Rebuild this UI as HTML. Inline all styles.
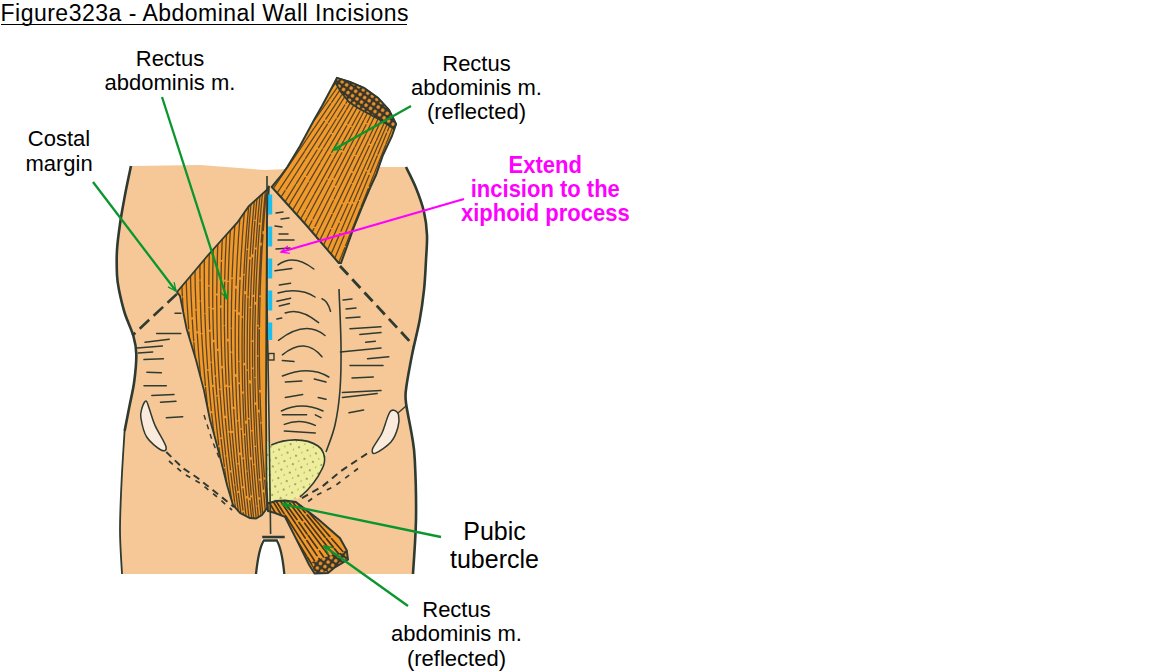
<!DOCTYPE html>
<html><head><meta charset="utf-8"><style>
html,body{margin:0;padding:0;background:#fff;width:1152px;height:672px;overflow:hidden;position:relative}
body{font-family:"Liberation Sans",sans-serif}
svg{position:absolute;left:0;top:0}
.lb{position:absolute;width:400px;text-align:center;white-space:nowrap}
.title{position:absolute;left:0.5px;font-size:23px;line-height:23px;letter-spacing:0.49px;white-space:nowrap}
.ul{position:absolute;left:1px;top:24px;width:406px;height:1.3px;background:#000}
</style></head><body>
<svg width="1152" height="672" viewBox="0 0 1152 672">
<defs>
<clipPath id="cu"><path d="M337.0,78.0 L350.0,82.0 L364.0,88.0 L378.0,98.0 L389.0,110.0 L396.0,124.0 L392.0,136.0 L383.0,155.0 L376.0,175.0 L370.0,188.0 L362.0,207.0 L354.0,227.0 L341.0,263.0 L338.7,263.0 L307.0,226.0 L271.7,187.0 L280.0,177.0 L287.3,167.0 L300.0,146.0 L314.0,120.0 L322.0,106.0Z"/></clipPath>
<clipPath id="cl"><path d="M269.0,186.0 L266.7,190.0 L248.6,206.4 L237.2,222.7 L222.5,239.0 L207.7,255.5 L191.4,275.0 L177.0,292.0 L180.0,296.0 L186.6,328.7 L196.0,360.0 L204.0,390.6 L210.0,420.0 L214.0,434.0 L220.0,457.0 L227.0,485.0 L233.0,505.0 L240.0,513.0 L249.8,518.0 L256.0,518.5 L262.0,515.0 L267.6,507.4 L266.5,480.0 L266.0,400.0 L266.5,300.0 L267.0,220.0Z"/></clipPath>
<clipPath id="cb"><path d="M267.5,503.5 L276.0,501.0 L285.0,500.5 L295.8,502.0 L318.6,519.5 L340.0,538.2 L346.7,550.3 L348.0,559.6 L334.0,568.0 L328.0,573.0 L314.6,573.5 L309.2,565.0 L298.5,543.6 L285.0,516.8 L275.0,513.0 L268.0,511.0Z"/></clipPath>
<pattern id="dots" width="5.5" height="5.5" patternUnits="userSpaceOnUse" patternTransform="rotate(35)"><rect width="5.5" height="5.5" fill="#3b3428"/><circle cx="2.7" cy="2.7" r="1.8" fill="#E8962E"/></pattern>
<pattern id="ydots" width="9" height="9" patternUnits="userSpaceOnUse" patternTransform="rotate(20)"><rect width="9" height="9" fill="#EDED9C"/><circle cx="2" cy="3" r="0.8" fill="#4a4a30"/><circle cx="6.5" cy="7" r="0.6" fill="#6a6a40"/></pattern>
</defs>
<path d="M131,166 L200,165 L265,170 L330,167 L406,167 C407.7,170.5 413.0,180.5 416.0,188.0 C419.0,195.5 422.2,204.2 424.0,212.0 C425.8,219.8 426.7,227.0 427.0,235.0 C427.3,243.0 426.5,250.8 426.0,260.0 C425.5,269.2 425.1,280.0 424.0,290.0 C422.9,300.0 421.7,309.2 419.7,320.0 C417.7,330.8 414.2,343.7 412.0,355.0 C409.8,366.3 407.2,380.0 406.2,388.0 C405.2,396.0 405.0,395.0 406.0,403.0 C407.0,411.0 410.5,426.5 412.0,436.0 C413.5,445.5 414.1,446.2 414.8,460.0 C415.5,473.8 416.3,500.0 416.0,519.0 C415.7,538.0 413.5,564.8 413.0,574.0 L285,574 L279,539 L262,539 L255,574 L122,574 C121.7,566.7 120.0,545.8 120.0,530.0 C120.0,514.2 120.9,495.5 121.7,479.0 C122.5,462.5 123.3,443.2 124.6,431.0 C125.9,418.8 127.9,414.3 129.5,406.0 C131.1,397.7 133.2,389.7 134.3,381.0 C135.4,372.3 136.5,361.5 136.3,354.0 C136.2,346.5 135.3,342.8 133.4,336.0 C131.5,329.2 127.1,320.7 124.7,313.0 C122.3,305.3 120.3,296.3 119.0,290.0 C117.7,283.7 117.3,281.7 117.0,275.0 C116.7,268.3 116.5,258.5 117.0,250.0 C117.5,241.5 118.7,233.2 120.0,224.0 C121.3,214.8 123.2,204.7 125.0,195.0 C126.8,185.3 130.0,170.8 131.0,166.0Z" fill="#F6C898"/>
<path d="M267.0,444.0 C267.7,434.3 268.5,445.5 271.3,444.9 C274.1,444.3 278.7,441.3 284.0,440.4 C289.3,439.5 297.3,438.7 303.0,439.7 C308.7,440.7 314.4,444.0 318.2,446.4 C322.0,448.8 324.9,450.1 325.6,453.8 C326.4,457.5 325.4,463.2 322.7,468.7 C320.0,474.1 313.0,481.8 309.3,486.5 C305.6,491.2 303.9,494.8 300.4,497.0 C296.9,499.2 293.2,499.0 288.5,500.0 C283.8,501.0 275.6,502.5 272.0,503.0 C268.4,503.5 267.8,512.8 267.0,503.0 C266.2,493.2 266.3,453.7 267.0,444.0Z" fill="url(#ydots)"/>
<path d="M271.3,444.9 C285,439 305,437 318,446 C326,452 326,462 322,469 C316,482 306,492 300,497" fill="none" stroke="#2f3a30" stroke-width="1.6"/>
<path d="M146.0,401.0 C147.2,401.1 147.8,404.7 149.3,408.8 C150.8,412.9 152.2,419.1 155.0,425.4 C157.8,431.7 165.0,442.7 166.0,446.8 C167.0,450.9 164.2,451.6 161.0,450.0 C157.8,448.4 150.0,442.3 146.7,437.0 C143.3,431.7 141.7,422.8 140.9,418.0 C140.1,413.2 141.2,410.8 142.0,408.0 C142.8,405.2 144.8,400.9 146.0,401.0Z" fill="#FBEBDC" stroke="#2f3a30" stroke-width="1.5"/>
<path d="M394.4,410.4 C395.8,410.9 397.9,411.8 398.5,414.6 C399.1,417.4 399.2,422.5 398.0,427.0 C396.8,431.5 395.0,437.3 391.2,441.7 C387.5,446.1 378.7,451.9 375.6,453.1 C372.5,454.3 371.4,452.3 372.5,449.0 C373.6,445.7 379.5,438.3 381.9,433.3 C384.3,428.3 385.6,422.4 387.0,418.8 C388.4,415.1 389.0,412.9 390.2,411.5 C391.4,410.1 393.0,409.9 394.4,410.4Z" fill="#FBEBDC" stroke="#2f3a30" stroke-width="1.5"/>
<path d="M398,413 L406,406" stroke="#2f3a30" stroke-width="1.3"/>
<path d="M337.0,78.0 L350.0,82.0 L364.0,88.0 L378.0,98.0 L389.0,110.0 L396.0,124.0 L392.0,136.0 L383.0,155.0 L376.0,175.0 L370.0,188.0 L362.0,207.0 L354.0,227.0 L341.0,263.0 L338.7,263.0 L307.0,226.0 L271.7,187.0 L280.0,177.0 L287.3,167.0 L300.0,146.0 L314.0,120.0 L322.0,106.0Z" fill="#F09A2C"/>
<path clip-path="url(#cu)" d="M342.4,73.5 Q333.2,86.2 324.0,98.9 M323.4,99.7 Q315.3,110.9 307.1,122.2 M306.3,123.4 Q302.5,128.6 298.6,133.9 M297.6,135.3 Q294.0,140.3 290.4,145.3 M289.4,146.6 Q285.5,152.0 281.6,157.4 M281.0,158.2 Q273.9,168.1 266.7,178.0 M265.4,179.8 Q262.7,183.5 260.0,187.2 M346.2,74.7 Q337.8,86.8 329.3,98.9 M328.5,100.1 Q316.4,117.3 304.4,134.5 M303.9,135.3 Q292.9,151.0 282.0,166.7 M281.2,167.8 Q276.6,174.3 272.1,180.9 M271.5,181.7 Q268.1,186.6 264.7,191.5 M349.4,75.9 Q340.5,89.1 331.6,102.3 M330.7,103.6 Q322.6,115.6 314.5,127.6 M313.9,128.4 Q310.2,134.0 306.4,139.6 M305.7,140.6 Q296.4,154.4 287.1,168.1 M286.2,169.5 Q280.2,178.4 274.1,187.3 M273.1,188.9 Q270.8,192.3 268.4,195.7 M353.5,77.1 Q348.1,85.3 342.7,93.5 M341.6,95.1 Q333.7,107.1 325.8,119.1 M324.5,121.2 Q314.7,135.9 305.0,150.7 M304.3,151.9 Q292.3,170.1 280.3,188.2 M279.7,189.1 Q276.2,194.6 272.6,200.0 M356.5,78.3 Q353.0,83.8 349.4,89.4 M348.3,91.2 Q338.4,106.8 328.4,122.5 M327.4,124.1 Q316.5,141.3 305.6,158.4 M304.8,159.7 Q295.5,174.3 286.2,189.0 M285.1,190.7 Q280.8,197.5 276.5,204.3 M360.7,79.5 Q353.3,91.3 346.0,103.2 M344.8,105.0 Q341.1,111.1 337.4,117.1 M336.2,119.0 Q327.4,133.3 318.5,147.7 M317.1,150.0 Q306.7,166.8 296.3,183.6 M295.5,184.8 Q288.9,195.5 282.4,206.1 M281.2,207.9 Q281.1,208.2 280.9,208.5 M363.7,80.6 Q360.0,86.8 356.3,92.9 M355.1,94.9 Q350.8,102.1 346.5,109.3 M345.8,110.5 Q339.2,121.4 332.6,132.4 M331.3,134.6 Q327.4,141.0 323.5,147.5 M322.6,149.0 Q314.6,162.3 306.7,175.5 M305.3,177.7 Q295.0,194.9 284.7,212.1 M367.4,81.8 Q361.1,92.6 354.8,103.3 M353.5,105.6 Q342.1,125.2 330.6,144.9 M330.0,145.9 Q325.3,154.0 320.6,162.0 M320.0,163.2 Q314.8,172.0 309.6,180.9 M308.7,182.5 Q300.4,196.7 292.2,210.9 M291.4,212.1 Q290.0,214.6 288.6,217.0 M370.3,84.3 Q359.0,104.1 347.8,123.9 M346.7,125.9 Q339.2,139.1 331.7,152.4 M330.7,154.2 Q321.8,169.9 313.0,185.6 M312.4,186.5 Q302.6,203.9 292.8,221.2 M373.5,86.7 Q367.1,98.3 360.8,109.8 M359.9,111.3 Q356.0,118.4 352.1,125.5 M351.0,127.4 Q347.5,133.9 343.9,140.4 M343.4,141.4 Q338.5,150.1 333.7,158.8 M333.1,159.9 Q327.2,170.7 321.3,181.4 M320.8,182.3 Q317.7,187.9 314.7,193.4 M314.1,194.5 Q310.2,201.6 306.3,208.7 M305.5,210.2 Q302.2,216.1 298.9,222.0 M297.7,224.3 Q297.3,224.9 297.0,225.4 M375.8,89.2 Q369.8,100.4 363.8,111.7 M363.2,112.7 Q353.2,131.4 343.2,150.2 M341.9,152.7 Q335.0,165.5 328.2,178.3 M327.3,180.0 Q323.6,186.9 319.9,193.9 M319.3,194.9 Q313.5,205.8 307.7,216.7 M307.0,218.0 Q303.9,223.8 300.8,229.6 M378.4,91.6 Q371.3,105.6 364.1,119.5 M363.5,120.6 Q356.2,134.8 348.9,149.0 M348.5,149.9 Q341.3,163.9 334.1,177.8 M332.8,180.3 Q322.9,199.6 313.1,218.8 M312.0,220.8 Q308.6,227.3 305.3,233.9 M381.4,94.1 Q374.2,108.3 367.1,122.5 M366.0,124.7 Q360.5,135.7 355.0,146.7 M354.3,147.9 Q345.0,166.6 335.6,185.2 M334.4,187.8 Q324.7,207.1 315.0,226.4 M313.9,228.6 Q311.5,233.4 309.1,238.2 M384.3,96.5 Q378.6,108.1 372.9,119.6 M372.5,120.5 Q369.4,126.8 366.3,133.1 M365.7,134.5 Q360.8,144.5 355.9,154.5 M354.8,156.6 Q344.5,177.8 334.1,199.0 M333.3,200.7 Q323.0,221.6 312.8,242.5 M387.7,98.9 Q383.1,108.5 378.5,118.0 M377.9,119.3 Q373.5,128.4 369.1,137.5 M368.5,138.8 Q360.8,154.8 353.1,170.9 M351.9,173.4 Q342.5,193.0 333.1,212.6 M332.2,214.4 Q324.4,230.7 316.6,247.0 M389.8,101.4 Q380.1,122.4 370.4,143.4 M369.4,145.7 Q360.9,164.1 352.4,182.4 M351.6,184.2 Q347.5,193.1 343.4,202.1 M342.3,204.4 Q337.0,215.9 331.7,227.4 M330.7,229.7 Q325.7,240.5 320.7,251.3 M392.6,104.1 Q384.5,122.2 376.4,140.4 M375.8,141.6 Q372.2,149.8 368.5,158.0 M368.0,159.1 Q358.5,180.3 349.1,201.4 M348.0,203.8 Q344.2,212.3 340.4,220.8 M339.3,223.2 Q332.1,239.5 324.9,255.7 M394.3,107.4 Q390.7,115.7 387.1,124.0 M386.7,124.9 Q377.1,147.3 367.4,169.7 M366.5,171.8 Q360.1,186.8 353.6,201.7 M352.5,204.3 Q346.7,217.7 341.0,231.1 M339.9,233.6 Q334.2,246.8 328.5,260.0 M396.0,110.7 Q391.8,120.9 387.5,131.1 M386.7,133.1 Q382.3,143.6 378.0,154.1 M377.3,155.8 Q373.8,164.2 370.3,172.6 M369.2,175.2 Q364.2,187.3 359.2,199.4 M358.5,201.2 Q351.8,217.2 345.2,233.2 M344.1,235.8 Q338.6,249.0 333.1,262.3 M398.0,114.0 Q392.0,129.1 386.0,144.1 M385.6,145.1 Q380.1,158.8 374.7,172.5 M374.2,173.7 Q371.7,180.0 369.2,186.2 M368.3,188.6 Q364.6,197.8 361.0,206.9 M360.3,208.7 Q352.9,227.2 345.5,245.7 M344.8,247.7 Q340.6,258.2 336.4,268.6 M399.8,117.3 Q396.7,125.3 393.7,133.3 M392.9,135.3 Q388.9,145.8 385.0,156.3 M384.4,157.7 Q377.0,177.2 369.6,196.6 M368.9,198.5 Q362.9,214.4 356.8,230.2 M355.9,232.6 Q348.3,252.8 340.6,272.9" stroke="#3a2e22" stroke-width="1.3" stroke-opacity="0.8" stroke-linecap="round" fill="none"/>
<path d="M337.0,78.0 L350.0,82.0 L364.0,88.0 L378.0,98.0 L389.0,110.0 L396.0,124.0 L392.0,136.0 L383.0,155.0 L376.0,175.0 L370.0,188.0 L362.0,207.0 L354.0,227.0 L341.0,263.0 L338.7,263.0 L307.0,226.0 L271.7,187.0 L280.0,177.0 L287.3,167.0 L300.0,146.0 L314.0,120.0 L322.0,106.0Z" fill="none" stroke="#2f3a30" stroke-width="2"/>
<path d="M337.0,78.0 L350.0,82.0 L364.0,88.0 L378.0,98.0 L389.0,110.0 L396.0,124.0 L394.0,129.0 L382.0,121.0 L371.0,115.0 L358.0,108.0 L349.0,102.0 L341.0,92.0 L335.0,82.0Z" fill="url(#dots)" stroke="#2f3a30" stroke-width="1.8"/>
<path d="M269.0,186.0 L266.7,190.0 L248.6,206.4 L237.2,222.7 L222.5,239.0 L207.7,255.5 L191.4,275.0 L177.0,292.0 L180.0,296.0 L186.6,328.7 L196.0,360.0 L204.0,390.6 L210.0,420.0 L214.0,434.0 L220.0,457.0 L227.0,485.0 L233.0,505.0 L240.0,513.0 L249.8,518.0 L256.0,518.5 L262.0,515.0 L267.6,507.4 L266.5,480.0 L266.0,400.0 L266.5,300.0 L267.0,220.0Z" fill="#F09A2C"/>
<path clip-path="url(#cl)" d="M176.5,279.4 Q177.4,297.7 178.9,316.0 M179.1,318.5 Q180.5,335.6 182.4,352.5 M182.7,354.8 Q184.6,372.2 187.1,389.6 M187.6,392.6 Q190.8,414.5 194.8,436.3 M195.3,439.1 Q200.3,465.8 206.5,492.3 M206.9,494.0 Q211.4,512.8 216.4,531.4 M181.4,275.0 Q181.8,285.4 182.4,295.9 M182.5,298.0 Q183.0,307.4 183.6,316.8 M183.8,318.5 Q184.4,327.9 185.2,337.3 M185.5,339.8 Q187.6,364.0 190.8,388.1 M191.1,391.0 Q192.6,402.0 194.3,413.0 M194.7,415.6 Q198.0,437.0 202.0,458.4 M202.3,459.9 Q207.3,485.8 213.4,511.5 M214.1,514.5 Q216.5,524.3 219.0,534.1 M185.8,270.6 Q186.6,299.8 188.7,328.9 M188.9,331.8 Q189.8,343.2 190.9,354.6 M191.1,356.7 Q192.9,375.6 195.3,394.5 M195.5,396.4 Q197.1,408.5 198.9,420.5 M199.2,422.4 Q202.7,445.5 207.1,468.5 M207.4,469.9 Q211.1,489.3 215.5,508.7 M215.9,510.8 Q217.8,519.0 219.8,527.2 M220.3,529.1 Q220.9,531.9 221.6,534.6 M190.2,266.2 Q190.7,291.6 192.1,316.8 M192.3,320.0 Q192.9,330.4 193.7,340.8 M193.9,342.6 Q194.6,351.6 195.4,360.5 M195.7,363.4 Q197.0,377.3 198.7,391.2 M198.8,392.8 Q200.9,409.9 203.4,427.0 M203.9,430.1 Q207.7,455.7 212.6,481.2 M213.0,483.0 Q215.2,494.2 217.6,505.3 M218.2,508.4 Q221.1,521.7 224.3,535.0 M194.9,261.8 Q195.0,285.4 196.0,308.8 M196.1,311.0 Q196.5,320.9 197.1,330.8 M197.3,334.0 Q198.6,356.2 200.7,378.3 M201.0,381.2 Q202.0,391.3 203.1,401.3 M203.5,404.3 Q204.6,414.0 205.9,423.7 M206.3,426.7 Q208.7,444.8 211.7,462.8 M212.0,464.8 Q215.4,485.0 219.4,505.1 M220.0,508.2 Q222.8,521.9 225.8,535.5 M200.0,257.4 Q199.9,268.3 200.0,279.2 M200.0,281.0 Q200.1,290.5 200.4,300.1 M200.4,301.9 Q200.8,317.3 201.6,332.7 M201.7,334.7 Q203.0,360.1 205.4,385.4 M205.5,387.3 Q207.4,406.9 209.8,426.3 M210.0,428.0 Q212.0,444.1 214.4,460.1 M214.7,461.5 Q216.8,475.4 219.2,489.2 M219.4,490.6 Q223.4,513.3 228.2,535.9 M204.4,253.0 Q204.0,283.0 204.8,312.9 M204.9,314.5 Q205.7,341.7 207.7,368.8 M207.8,371.1 Q209.3,390.9 211.3,410.6 M211.7,413.6 Q213.5,431.0 215.9,448.4 M216.2,450.8 Q219.4,474.8 223.6,498.7 M224.2,502.0 Q227.0,518.2 230.3,534.3 M209.4,248.5 Q208.9,266.6 208.9,284.7 M208.9,286.9 Q208.9,296.9 209.1,306.8 M209.1,308.5 Q209.3,318.9 209.7,329.2 M209.8,332.1 Q210.3,346.7 211.2,361.3 M211.3,363.1 Q211.9,373.7 212.7,384.3 M212.9,387.5 Q215.2,416.2 218.7,444.8 M219.0,447.6 Q220.9,462.7 223.1,477.8 M223.4,479.7 Q225.7,495.0 228.3,510.3 M228.7,512.7 Q230.8,524.8 233.1,536.8 M213.4,243.8 Q212.4,275.7 212.8,307.4 M212.8,310.0 Q213.1,324.7 213.6,339.2 M213.7,342.7 Q214.4,358.8 215.4,374.9 M215.6,377.1 Q216.1,386.0 216.8,394.8 M217.0,397.0 Q218.6,417.0 220.8,436.9 M221.1,439.4 Q222.6,452.9 224.4,466.3 M224.7,468.8 Q225.9,477.7 227.2,486.6 M227.5,488.6 Q229.1,499.4 230.9,510.3 M231.3,512.6 Q232.9,522.3 234.7,532.0 M235.0,533.5 Q235.3,535.4 235.7,537.3 M218.0,239.0 Q216.9,266.1 216.8,293.1 M216.7,296.0 Q216.7,322.1 217.6,348.2 M217.8,351.5 Q218.5,369.8 219.7,388.1 M219.8,390.2 Q222.0,422.7 225.7,455.0 M225.9,456.8 Q228.9,483.0 233.0,509.1 M233.4,511.9 Q235.0,521.8 236.7,531.8 M237.2,535.0 Q237.4,536.2 237.6,537.4 M222.5,234.3 Q221.9,246.9 221.5,259.4 M221.4,262.1 Q220.7,283.5 220.7,304.9 M220.7,308.2 Q220.8,336.9 222.0,365.5 M222.2,368.8 Q223.2,392.0 225.1,415.2 M225.3,418.6 Q227.4,444.3 230.5,469.8 M230.8,472.8 Q232.6,487.4 234.7,502.0 M234.9,503.6 Q236.7,515.8 238.6,528.1 M239.0,530.3 Q239.6,533.9 240.2,537.4 M226.8,229.6 Q225.3,254.4 224.7,279.2 M224.7,282.2 Q224.2,303.5 224.4,324.8 M224.4,326.4 Q224.7,355.3 226.2,384.2 M226.3,387.3 Q227.5,408.9 229.3,430.5 M229.5,433.2 Q231.7,458.6 234.8,484.0 M235.0,485.7 Q238.2,511.5 242.3,537.3 M230.7,224.9 Q228.9,252.7 228.2,280.3 M228.1,282.4 Q227.4,310.3 227.8,338.2 M227.8,341.9 Q228.2,363.6 229.2,385.3 M229.3,387.7 Q230.3,409.1 232.0,430.4 M232.2,433.4 Q234.5,461.9 237.9,490.4 M238.3,493.3 Q241.0,515.3 244.3,537.3 M235.2,220.2 Q233.1,248.7 232.1,277.1 M232.1,279.4 Q231.3,303.4 231.3,327.3 M231.3,328.9 Q231.3,340.0 231.5,351.1 M231.5,353.2 Q232.0,379.8 233.5,406.3 M233.7,409.5 Q235.2,436.1 237.7,462.7 M237.9,464.9 Q240.0,487.5 242.9,510.0 M243.2,512.6 Q244.8,525.0 246.6,537.3 M240.1,215.5 Q237.3,250.5 236.1,285.3 M235.9,289.1 Q235.6,299.2 235.4,309.3 M235.4,312.0 Q234.9,342.7 235.6,373.5 M235.7,377.3 Q236.3,398.5 237.5,419.7 M237.7,421.9 Q238.5,437.0 239.7,452.0 M240.0,455.7 Q241.2,470.8 242.7,485.8 M243.0,488.7 Q244.4,502.0 246.0,515.3 M246.4,518.1 Q247.6,527.7 248.9,537.3 M244.4,210.8 Q241.6,243.8 240.1,276.8 M240.0,280.1 Q239.3,295.9 239.0,311.8 M238.9,315.5 Q238.5,338.0 238.8,360.5 M238.8,362.2 Q239.0,372.1 239.2,381.9 M239.3,384.7 Q239.9,406.3 241.1,427.8 M241.3,430.1 Q242.1,443.6 243.1,457.0 M243.3,459.4 Q244.7,477.5 246.5,495.5 M246.9,499.0 Q247.9,508.8 249.1,518.7 M249.5,522.0 Q250.4,529.6 251.4,537.2 M248.7,205.9 Q245.5,239.8 243.9,273.7 M243.8,276.0 Q242.8,295.9 242.4,315.7 M242.4,318.2 Q241.6,354.7 242.7,391.1 M242.8,394.1 Q243.4,413.6 244.5,433.1 M244.6,435.7 Q245.6,452.9 247.0,470.1 M247.1,471.9 Q248.2,484.5 249.4,497.1 M249.8,500.7 Q251.5,518.2 253.7,535.7 M251.3,200.3 Q249.0,224.2 247.5,248.1 M247.3,250.3 Q246.1,270.4 245.3,290.6 M245.2,294.6 Q244.0,328.5 244.3,362.4 M244.4,366.0 Q244.7,393.1 245.9,420.2 M246.1,424.1 Q247.9,459.5 251.3,494.9 M251.5,497.9 Q253.5,517.5 255.9,537.1 M254.9,194.7 Q251.8,225.6 250.0,256.5 M249.8,259.8 Q248.7,277.9 248.1,296.0 M248.0,297.8 Q246.9,333.4 247.3,369.0 M247.3,371.1 Q247.6,394.2 248.6,417.4 M248.7,419.9 Q249.6,438.3 250.8,456.7 M251.0,460.2 Q253.6,497.2 258.0,534.1 M258.3,536.4 Q258.3,536.6 258.3,536.8 M257.9,189.1 Q256.4,204.2 255.1,219.3 M254.9,221.4 Q253.6,237.6 252.6,253.8 M252.4,257.8 Q251.0,282.0 250.3,306.3 M250.3,308.5 Q249.3,344.1 250.0,379.7 M250.0,383.9 Q250.5,406.8 251.7,429.7 M251.8,431.8 Q252.6,447.5 253.7,463.3 M253.8,465.2 Q255.3,485.2 257.2,505.1 M257.4,507.0 Q258.8,521.7 260.5,536.4 M261.1,183.5 Q257.8,215.3 255.8,247.0 M255.6,249.8 Q254.2,272.0 253.5,294.3 M253.4,297.4 Q252.7,318.6 252.5,339.8 M252.5,342.4 Q252.5,354.7 252.6,367.0 M252.6,369.5 Q253.1,407.3 255.3,445.2 M255.4,447.3 Q256.9,472.0 259.2,496.8 M259.5,500.1 Q261.2,518.1 263.2,536.1 M264.0,177.9 Q261.6,200.1 259.9,222.3 M259.6,225.2 Q256.7,263.3 255.5,301.3 M255.4,305.2 Q254.4,340.9 254.9,376.7 M254.9,378.5 Q255.1,390.2 255.5,401.8 M255.6,405.4 Q256.8,441.7 259.6,478.1 M259.8,481.1 Q262.0,508.4 265.0,535.7 M267.2,172.4 Q263.5,207.2 261.2,242.1 M261.0,246.1 Q258.5,285.2 257.9,324.3 M257.8,326.8 Q257.6,340.8 257.6,354.9 M257.7,357.1 Q257.7,383.2 258.7,409.2 M258.8,412.8 Q260.2,451.0 263.4,489.2 M263.7,492.9 Q265.5,514.1 267.9,535.4 M268.9,166.3 Q267.6,178.6 266.5,190.8 M266.1,194.7 Q264.5,212.6 263.3,230.5 M263.0,234.7 Q261.0,264.8 260.1,294.9 M260.1,297.6 Q259.6,312.4 259.5,327.2 M259.4,329.7 Q259.1,359.6 259.9,389.4 M260.0,393.0 Q260.4,407.4 261.1,421.8 M261.1,423.8 Q262.4,450.3 264.4,476.9 M264.7,480.2 Q266.5,502.7 268.8,525.2 M269.1,527.6 Q269.5,531.3 269.9,535.1" stroke="#3a2e22" stroke-width="1.3" stroke-opacity="0.8" stroke-linecap="round" fill="none"/>
<path d="M269.0,186.0 L266.7,190.0 L248.6,206.4 L237.2,222.7 L222.5,239.0 L207.7,255.5 L191.4,275.0 L177.0,292.0 L180.0,296.0 L186.6,328.7 L196.0,360.0 L204.0,390.6 L210.0,420.0 L214.0,434.0 L220.0,457.0 L227.0,485.0 L233.0,505.0 L240.0,513.0 L249.8,518.0 L256.0,518.5 L262.0,515.0 L267.6,507.4 L266.5,480.0 L266.0,400.0 L266.5,300.0 L267.0,220.0Z" fill="none" stroke="#2f3a30" stroke-width="1.8"/>
<path d="M267.5,503.5 L276.0,501.0 L285.0,500.5 L295.8,502.0 L318.6,519.5 L340.0,538.2 L346.7,550.3 L348.0,559.6 L334.0,568.0 L328.0,573.0 L314.6,573.5 L309.2,565.0 L298.5,543.6 L285.0,516.8 L275.0,513.0 L268.0,511.0Z" fill="#F09A2C"/>
<path clip-path="url(#cb)" d="M265.6,496.4 Q275.1,512.4 284.6,528.3 M286.0,530.7 Q295.0,545.9 303.9,561.0 M305.1,563.0 Q309.6,570.6 314.2,578.2 M270.1,496.7 Q275.2,504.9 280.2,513.1 M280.7,514.0 Q287.1,524.3 293.4,534.6 M294.9,537.0 Q300.7,546.5 306.5,555.9 M307.4,557.3 Q313.2,566.8 319.1,576.3 M273.5,497.1 Q278.8,505.3 284.1,513.6 M285.3,515.3 Q293.0,527.3 300.7,539.2 M301.4,540.4 Q309.9,553.6 318.4,566.8 M320.0,569.3 Q321.5,571.6 323.0,573.9 M278.1,497.4 Q286.8,510.4 295.4,523.3 M296.3,524.6 Q300.8,531.3 305.3,538.1 M306.9,540.5 Q311.9,548.0 317.0,555.6 M318.9,558.4 Q323.3,565.0 327.7,571.6 M281.5,497.8 Q289.3,508.7 297.0,519.6 M299.0,522.4 Q303.1,528.2 307.1,533.9 M308.3,535.5 Q312.8,541.9 317.4,548.3 M319.4,551.1 Q323.4,556.8 327.5,562.5 M328.1,563.4 Q330.1,566.3 332.2,569.2 M286.0,498.1 Q294.3,509.3 302.6,520.5 M304.6,523.2 Q314.4,536.3 324.1,549.4 M325.1,550.8 Q329.5,556.7 333.9,562.6 M335.8,565.2 Q336.5,566.1 337.1,566.9 M289.8,498.4 Q295.6,505.9 301.3,513.3 M302.3,514.6 Q306.6,520.1 310.9,525.7 M311.5,526.4 Q316.6,532.9 321.6,539.5 M322.7,540.8 Q331.9,552.7 341.1,564.6 M294.0,498.8 Q299.7,505.8 305.3,512.7 M307.1,514.9 Q316.1,526.0 325.1,537.1 M326.3,538.6 Q329.7,542.8 333.2,547.1 M334.4,548.6 Q340.0,555.4 345.5,562.2 M297.4,499.1 Q307.1,510.4 316.9,521.7 M317.5,522.3 Q323.7,529.5 329.9,536.6 M331.7,538.7 Q340.5,548.9 349.3,559.0 M349.9,559.7 Q350.0,559.8 350.1,559.9" stroke="#2a2218" stroke-width="1.7" stroke-opacity="0.85" stroke-linecap="round" fill="none"/>
<path d="M347.5,550.0 L347.5,558.5 L334.0,568.0 L320.0,573.5 L314.0,572.0 L312.0,562.0 L325.0,557.0 L340.0,553.0Z" fill="url(#dots)"/>
<path d="M267.5,503.5 L276.0,501.0 L285.0,500.5 L295.8,502.0 L318.6,519.5 L340.0,538.2 L346.7,550.3 L348.0,559.6 L334.0,568.0 L328.0,573.0 L314.6,573.5 L309.2,565.0 L298.5,543.6 L285.0,516.8 L275.0,513.0 L268.0,511.0Z" fill="none" stroke="#2f3a30" stroke-width="2"/>
<path d="M131.0,166.0 C130.0,170.8 126.8,185.3 125.0,195.0 C123.2,204.7 121.3,214.8 120.0,224.0 C118.7,233.2 117.5,241.5 117.0,250.0 C116.5,258.5 116.7,268.3 117.0,275.0 C117.3,281.7 117.7,283.7 119.0,290.0 C120.3,296.3 122.3,305.3 124.7,313.0 C127.1,320.7 131.5,329.2 133.4,336.0 C135.3,342.8 136.2,346.5 136.3,354.0 C136.5,361.5 135.4,372.3 134.3,381.0 C133.2,389.7 131.1,397.7 129.5,406.0 C127.9,414.3 125.4,426.8 124.6,431.0" fill="none" stroke="#2f3a30" stroke-width="2.6"/>
<path d="M124.6,431.0 C124.1,439.0 122.5,462.5 121.7,479.0 C120.9,495.5 120.0,514.2 120.0,530.0 C120.0,545.8 121.7,566.7 122.0,574.0" fill="none" stroke="#2f3a30" stroke-width="1.8"/>
<path d="M406.0,167.0 C407.7,170.5 413.0,180.5 416.0,188.0 C419.0,195.5 422.2,204.2 424.0,212.0 C425.8,219.8 426.7,227.0 427.0,235.0 C427.3,243.0 426.5,250.8 426.0,260.0 C425.5,269.2 425.1,280.0 424.0,290.0 C422.9,300.0 421.7,309.2 419.7,320.0 C417.7,330.8 414.2,343.7 412.0,355.0 C409.8,366.3 407.2,380.0 406.2,388.0 C405.2,396.0 405.0,395.0 406.0,403.0 C407.0,411.0 410.5,426.5 412.0,436.0 C413.5,445.5 414.1,446.2 414.8,460.0 C415.5,473.8 416.3,500.0 416.0,519.0 C415.7,538.0 413.5,564.8 413.0,574.0" fill="none" stroke="#2f3a30" stroke-width="2.6"/>
<polyline points="267.0,176.0 267.0,300.0 269.0,420.0 270.6,534.0" fill="none" stroke="#2f3a30" stroke-width="1.6"/>
<path d="M263.8,540.5 C265.4,538.8 267.8,539.5 270.0,539.5 C272.2,539.5 275.2,538.8 276.9,540.5 C278.6,542.2 279.0,544.2 280.2,549.5 C281.4,554.8 283.5,568.2 284.3,572.5 C285.1,576.8 289.8,574.6 285.0,575.0 C280.2,575.4 260.2,575.4 255.5,575.0 C250.8,574.6 255.7,576.8 256.5,572.5 C257.3,568.2 259.3,554.8 260.5,549.5 C261.7,544.2 262.2,542.2 263.8,540.5Z" fill="#fff"/>
<path d="M262.2,537 L284.7,537" stroke="#2f3a30" stroke-width="2.5"/>
<path d="M256,574 C257.5,560 259,548 263.8,540.5 L276.9,540.5 C281,548 283,560 284.3,574" stroke="#2f3a30" stroke-width="2.3" fill="none"/>
<polyline points="177.0,293.9 132.4,335.5" fill="none" stroke="#2f3a30" stroke-width="2.6" stroke-dasharray="13,6"/>
<polyline points="340.0,266.0 414.0,346.0" fill="none" stroke="#2f3a30" stroke-width="2.8" stroke-dasharray="12,6"/>
<polyline points="166.3,452.0 182.7,468.0 197.6,478.0 214.0,491.0 234.0,507.0" fill="none" stroke="#2f3a30" stroke-width="2" stroke-dasharray="7,5"/>
<polyline points="169.0,461.0 184.0,474.0 200.0,483.0 216.0,496.0 232.0,510.0" fill="none" stroke="#2f3a30" stroke-width="1.7" stroke-dasharray="5,6"/>
<polyline points="367.0,453.6 340.4,471.4 322.5,486.3 301.7,498.2" fill="none" stroke="#2f3a30" stroke-width="2" stroke-dasharray="7,5"/>
<polyline points="358.0,468.5 334.4,486.3 316.5,495.2 304.6,504.2" fill="none" stroke="#2f3a30" stroke-width="1.7" stroke-dasharray="5,6"/>
<polyline points="204.0,415.0 212.0,440.0 220.0,460.0" fill="none" stroke="#2f3a30" stroke-width="1.4" stroke-dasharray="5,5"/>
<path d="M339.0,289.0 C339.3,298.3 340.8,328.2 341.0,345.0 C341.2,361.8 341.0,376.7 340.0,390.0 C339.0,403.3 337.3,414.7 335.0,425.0 C332.7,435.3 327.5,447.5 326.0,452.0" fill="none" stroke="#2f3a30" stroke-width="1.6"/>
<polyline points="270.2,194.4 270.2,340.0" fill="none" stroke="#19BFF0" stroke-width="4" stroke-dasharray="20,12"/>
<rect x="268.5" y="353.5" width="5.5" height="6.5" fill="none" stroke="#2f3a30" stroke-width="1.4"/>
<path d="M276.0,213.0 L283.0,212.0 M281.0,219.0 L289.0,218.0 M275.0,226.0 L282.0,227.0 M279.0,234.0 L288.0,234.0 M278.0,240.0 L294.0,240.0 M276.0,249.0 L290.0,248.0 M278.0,264.9 Q293.7,253.3 313.8,269.0 M275.0,270.8 L291.8,268.5 M279.3,285.0 L290.6,283.3 M278.0,292.9 Q300.1,287.1 315.0,297.0 M276.9,301.2 L290.6,298.2 M279.3,306.0 L289.4,303.6 M322.0,298.8 Q327.8,300.9 330.5,311.3 M285.2,313.0 Q299.5,307.2 318.6,322.6 M276.9,319.0 L281.7,317.9 M278.5,340.3 Q305.6,319.5 325.0,335.5 M282.4,354.8 Q305.2,336.2 322.0,356.8 M282.4,360.6 L294.0,361.6 M282.4,376.0 Q309.6,364.9 328.8,377.0 M285.3,381.9 L301.8,381.0 M314.3,379.0 L326.0,382.0 M285.3,397.4 L302.7,394.5 M318.2,397.4 L326.0,399.3 M281.4,411.0 Q301.4,401.0 323.0,411.0 M282.4,414.8 L306.6,414.8 M315.3,414.8 L321.0,417.7 M284.3,424.4 Q299.8,418.1 315.3,425.4 M284.3,431.0 L315.3,433.0 M350.0,328.7 L381.0,326.8 M359.8,334.5 L381.0,332.6 M365.6,342.2 L375.3,341.3 M340.4,352.0 L381.0,348.0 M367.5,358.7 L388.8,356.8 M350.0,365.5 L383.0,365.5 M352.0,378.0 L373.3,377.0 M342.4,392.5 L381.0,390.6 M342.4,397.4 L377.2,393.5 M349.0,412.8 L363.6,410.0 M343.0,300.0 L352.0,299.0 M346.0,309.0 L356.0,308.0 M346.0,318.0 L360.0,317.0 M156.6,333.5 L180.8,333.5 M145.0,342.2 L169.2,339.3 M137.2,348.0 L162.4,346.0 M138.2,352.9 L152.7,351.9 M144.0,359.6 L163.4,358.7 M146.9,372.2 L161.4,372.8 M144.0,385.7 L166.3,385.7 M151.8,395.4 L174.0,394.4 M160.5,402.2 L176.0,401.2 M166.3,417.7 L182.7,416.7 M175.0,313.2 L181.0,313.2" stroke="#2f3a30" stroke-width="1.5" stroke-linecap="round" fill="none"/>
<path d="M93,182 L176,291" stroke="#0A962E" stroke-width="2.3" fill="none"/><path d="M168.0,286.8 L176,291 L174.1,282.2" stroke="#0A962E" stroke-width="1.3" fill="none"/>
<path d="M162,97 L227,299" stroke="#0A962E" stroke-width="2.3" fill="none"/><path d="M220.9,292.4 L227,299 L228.1,290.1" stroke="#0A962E" stroke-width="1.3" fill="none"/>
<path d="M411,106 L333,150" stroke="#0A962E" stroke-width="2.3" fill="none"/><path d="M338.2,142.7 L333,150 L342.0,149.3" stroke="#0A962E" stroke-width="1.3" fill="none"/>
<path d="M464,199 L281,252" stroke="#FF00FF" stroke-width="2.3" fill="none"/><path d="M287.8,246.1 L281,252 L289.9,253.4" stroke="#FF00FF" stroke-width="1.3" fill="none"/>
<path d="M441,537 L282,504" stroke="#0A962E" stroke-width="2.3" fill="none"/><path d="M290.8,501.9 L282,504 L289.2,509.4" stroke="#0A962E" stroke-width="1.3" fill="none"/>
<path d="M408,606 L324,546" stroke="#0A962E" stroke-width="2.3" fill="none"/><path d="M332.8,547.6 L324,546 L328.4,553.8" stroke="#0A962E" stroke-width="1.3" fill="none"/>
</svg>
<div class="title" style="top:1.8px">Figure323a - Abdominal Wall Incisions</div>
<div class="ul"></div>
<div class="lb" style="left:-30px;top:47.7px;font-size:22px;line-height:22px;color:#000;">Rectus</div>
<div class="lb" style="left:-30px;top:72.0px;font-size:22px;line-height:22px;color:#000;">abdominis m.</div>
<div class="lb" style="left:276.5px;top:52.5px;font-size:22px;line-height:22px;color:#000;">Rectus</div>
<div class="lb" style="left:276.5px;top:76.6px;font-size:22px;line-height:22px;color:#000;">abdominis m.</div>
<div class="lb" style="left:276.5px;top:100.7px;font-size:22px;line-height:22px;color:#000;">(reflected)</div>
<div class="lb" style="left:-141px;top:128.0px;font-size:22px;line-height:22px;color:#000;">Costal</div>
<div class="lb" style="left:-141px;top:152.7px;font-size:22px;line-height:22px;color:#000;">margin</div>
<div class="lb" style="left:345.29999999999995px;top:155.0px;font-size:22px;line-height:22px;color:#FF00FF;transform:scaleY(1.08);transform-origin:50% 18.62px;font-weight:bold;">Extend</div>
<div class="lb" style="left:345.29999999999995px;top:178.9px;font-size:22px;line-height:22px;color:#FF00FF;transform:scaleY(1.08);transform-origin:50% 18.62px;font-weight:bold;">incision to the</div>
<div class="lb" style="left:345.29999999999995px;top:202.8px;font-size:22px;line-height:22px;color:#FF00FF;transform:scaleY(1.08);transform-origin:50% 18.62px;font-weight:bold;">xiphoid process</div>
<div class="lb" style="left:294.5px;top:518.5px;font-size:25px;line-height:25px;color:#000;">Pubic</div>
<div class="lb" style="left:294.5px;top:546.6px;font-size:25px;line-height:25px;color:#000;">tubercle</div>
<div class="lb" style="left:256.5px;top:598.5px;font-size:22px;line-height:22px;color:#000;">Rectus</div>
<div class="lb" style="left:256.5px;top:623.0px;font-size:22px;line-height:22px;color:#000;">abdominis m.</div>
<div class="lb" style="left:256.5px;top:647.5px;font-size:22px;line-height:22px;color:#000;">(reflected)</div>
</body></html>
